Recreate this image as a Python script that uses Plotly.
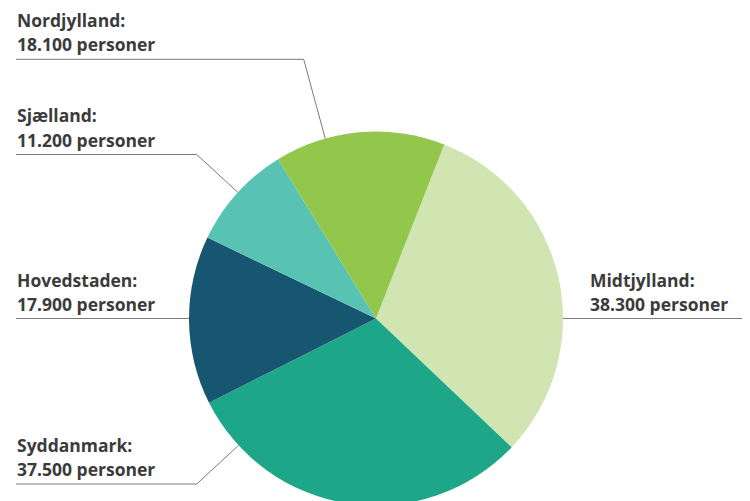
import math
import plotly.graph_objects as go

# ---- data ----
regions = ["Midtjylland", "Syddanmark", "Hovedstaden", "Sjælland", "Nordjylland"]
persons = [38300, 37500, 17900, 11200, 18100]
value_labels = ["38.300 personer", "37.500 personer", "17.900 personer",
                "11.200 personer", "18.100 personer"]
colors = ["#d1e5b3", "#1ea688", "#175670", "#58c3b3", "#93c74c"]

# ---- layout geometry (screen pixels; page body adds an 8px offset) ----
W, H = 750, 501
OFF = 8
CX, CY, R = 376, 318.5, 187
ROT = 21.4

label_pos = {
    "Nordjylland": dict(tx=14.5, ly=59.3, elbow=303.7, ang=-15.75, side="left"),
    "Sjælland": dict(tx=14.5, ly=154.5, elbow=196.7, ang=-47.6, side="left"),
    "Hovedstaden": dict(tx=14.5, ly=318.5, elbow=None, ang=270, side="left"),
    "Syddanmark": dict(tx=14.5, ly=484.0, elbow=196.7, ang=227.3, side="left"),
    "Midtjylland": dict(tx=587.5, ly=318.5, elbow=None, ang=90, side="right"),
}
LINE_START_X = 16

TEXT_COLOR = "#3b3b3b"
LINE_COLOR = "#7a7a7a"
FONT = "Open Sans"
FSIZE = 17.5


def px(x):
    return (x - OFF) / W


def py(y):
    return 1 - (y - OFF) / H


fig = go.Figure(
    go.Pie(
        labels=regions,
        values=persons,
        sort=False,
        direction="clockwise",
        rotation=ROT,
        marker=dict(colors=colors, line=dict(width=0)),
        textinfo="none",
        hoverinfo="label+value",
        domain=dict(x=[px(CX - R), px(CX + R)], y=[py(CY + R), py(CY - R)]),
        showlegend=False,
    )
)

shapes = []
annotations = []
for name, val in zip(regions, value_labels):
    p = label_pos[name]
    a = math.radians(p["ang"])
    ax = CX + R * math.sin(a)
    ay = CY - R * math.cos(a)
    if p["side"] == "left":
        pts = [(LINE_START_X, p["ly"])]
        if p["elbow"] is not None:
            pts.append((p["elbow"], p["ly"]))
        pts.append((ax, ay))
    else:
        pts = [(ax, ay), (W + OFF + 20, p["ly"])]
    path = "M " + " L ".join(f"{px(x):.5f},{py(y):.5f}" for x, y in pts)
    shapes.append(dict(type="path", xref="paper", yref="paper", path=path,
                       line=dict(color=LINE_COLOR, width=1)))
    for txt, base in ((f"<b>{name}:</b>", p["ly"] - 29), (f"<b>{val}</b>", p["ly"] - 5)):
        annotations.append(dict(
            x=px(p["tx"]), y=py(base + 4), xref="paper", yref="paper",
            xanchor="left", yanchor="bottom", showarrow=False, text=txt,
            font=dict(family=FONT, size=FSIZE, color=TEXT_COLOR), align="left",
        ))

fig.update_layout(
    width=W, height=H,
    margin=dict(l=0, r=0, t=0, b=0),
    paper_bgcolor="white", plot_bgcolor="white",
    shapes=shapes, annotations=annotations,
)

fig.write_html("out.html")
